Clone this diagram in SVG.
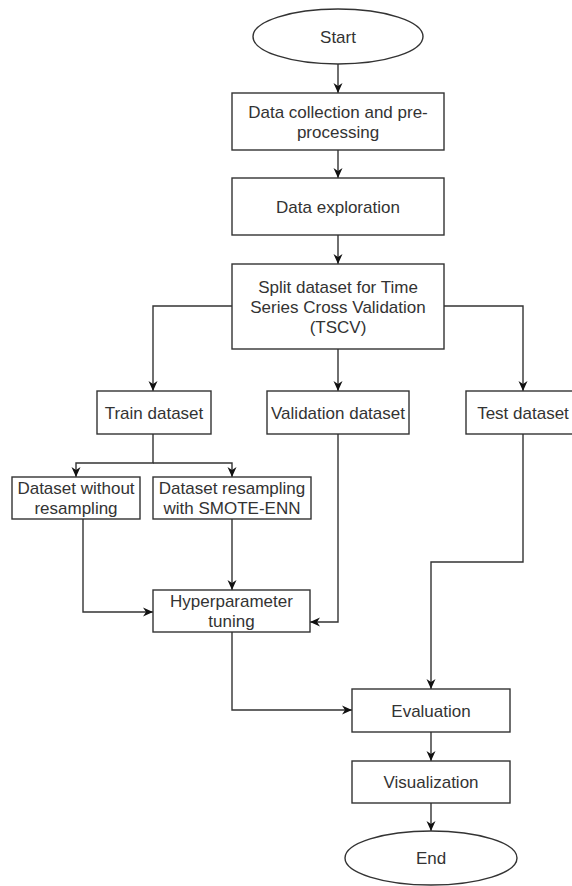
<svg xmlns="http://www.w3.org/2000/svg" width="572" height="886" viewBox="0 0 572 886">
<style>
.n{fill:#fff;stroke:#333;stroke-width:1.4}
.t{font-family:"Liberation Sans",Arial,sans-serif;font-size:17px;fill:#333;text-anchor:middle}
.c{fill:none;stroke:#333;stroke-width:1.4}
</style>
<defs>
<marker id="a" viewBox="0 0 10 10" markerWidth="10" markerHeight="10" markerUnits="userSpaceOnUse" refX="10" refY="5" orient="auto">
<path d="M0,0.5 L10,5 L0,9.5 L3,5 z" fill="#111"/>
</marker>
</defs>
<rect width="572" height="886" fill="#fff"/>
<g id="connectors">
<path class="c" marker-end="url(#a)" d="M338,64 L338,93"/>
<path class="c" marker-end="url(#a)" d="M338,150 L338,178"/>
<path class="c" marker-end="url(#a)" d="M338,235 L338,264"/>
<path class="c" marker-end="url(#a)" d="M232,306 L153,306 L153,391"/>
<path class="c" marker-end="url(#a)" d="M338,349 L338,391"/>
<path class="c" marker-end="url(#a)" d="M444,306 L523,306 L523,391"/>
<path class="c" marker-end="url(#a)" d="M153,434 L153,463 L76,463 L76,477"/>
<path class="c" marker-end="url(#a)" d="M153,463 L232,463 L232,477"/>
<path class="c" marker-end="url(#a)" d="M83,519 L83,612 L153,612"/>
<path class="c" marker-end="url(#a)" d="M232,519 L232,590"/>
<path class="c" marker-end="url(#a)" d="M338,434 L338,622 L310,622"/>
<path class="c" marker-end="url(#a)" d="M523,434 L523,562 L431,562 L431,689"/>
<path class="c" marker-end="url(#a)" d="M232,632 L232,710 L352,710"/>
<path class="c" marker-end="url(#a)" d="M431,732 L431,761"/>
<path class="c" marker-end="url(#a)" d="M431,803 L431,831"/>
</g>
<g id="start"><ellipse class="n" cx="338" cy="36.5" rx="85" ry="27.5"/><text class="t" x="338" y="42.5">Start</text></g>
<g id="collect"><rect class="n" x="232" y="93" width="212" height="57"/><text class="t" x="338" y="117.5">Data collection and pre-</text><text class="t" x="338" y="137.5">processing</text></g>
<g id="explore"><rect class="n" x="232" y="178" width="212" height="57"/><text class="t" x="338" y="212.5">Data exploration</text></g>
<g id="split"><rect class="n" x="232" y="264" width="212" height="85"/><text class="t" x="338" y="292.5">Split dataset for Time</text><text class="t" x="338" y="312.5">Series Cross Validation</text><text class="t" x="338" y="332.5">(TSCV)</text></g>
<g id="train"><rect class="n" x="97" y="391" width="114" height="43"/><text class="t" x="154" y="418.5">Train dataset</text></g>
<g id="validation"><rect class="n" x="267" y="391" width="142" height="43"/><text class="t" x="338" y="418.5">Validation dataset</text></g>
<g id="test"><rect class="n" x="466" y="391" width="114" height="43"/><text class="t" x="523" y="418.5">Test dataset</text></g>
<g id="without"><rect class="n" x="12" y="477" width="128" height="42"/><text class="t" x="76" y="494">Dataset without</text><text class="t" x="76" y="514">resampling</text></g>
<g id="smote"><rect class="n" x="153" y="477" width="158" height="42"/><text class="t" x="232" y="494">Dataset resampling</text><text class="t" x="232" y="514">with SMOTE-ENN</text></g>
<g id="hyper"><rect class="n" x="153" y="590" width="157" height="42"/><text class="t" x="231.5" y="607">Hyperparameter</text><text class="t" x="231.5" y="627">tuning</text></g>
<g id="evaluation"><rect class="n" x="352" y="689" width="158" height="43"/><text class="t" x="431" y="716.5">Evaluation</text></g>
<g id="visualization"><rect class="n" x="352" y="761" width="158" height="42"/><text class="t" x="431" y="788">Visualization</text></g>
<g id="end"><ellipse class="n" cx="431" cy="858" rx="86" ry="27"/><text class="t" x="431" y="864">End</text></g>
</svg>
